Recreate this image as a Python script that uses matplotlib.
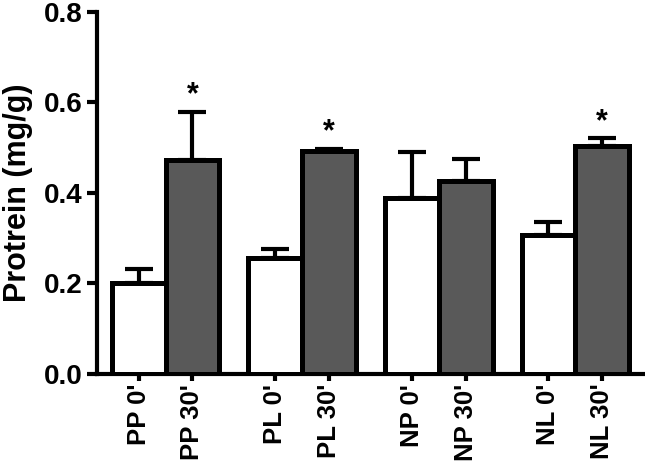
import matplotlib.pyplot as plt
import numpy as np

plt.rcParams['font.family'] = ['Liberation Sans', 'DejaVu Sans']
plt.rcParams['font.weight'] = 'bold'

# data
labels = ["PP 0'", "PP 30'", "PL 0'", "PL 30'", "NP 0'", "NP 30'", "NL 0'", "NL 30'"]
means = [0.200, 0.473, 0.256, 0.493, 0.388, 0.427, 0.306, 0.503]
errors = [0.032, 0.106, 0.020, 0.005, 0.103, 0.049, 0.029, 0.018]
signif = [False, True, False, True, False, False, False, True]

group_gap = 2.54
x = np.array([(i // 2) * group_gap + (i % 2) for i in range(len(labels))])
colors = ['white' if i % 2 == 0 else '#595959' for i in range(len(labels))]

fig = plt.figure(figsize=(6.45, 4.69), dpi=100)
ax = fig.add_axes([0.150, 0.2026, 0.847, 0.772])

ax.bar(x, means, width=1.0, color=colors, edgecolor='black', linewidth=3.6, zorder=3)
ax.errorbar(x, means, yerr=[np.zeros(len(means)), errors], fmt='none', ecolor='black',
            elinewidth=3, capsize=10, capthick=3, zorder=2)

for xi, m, e, s in zip(x, means, errors, signif):
    if s:
        ax.text(xi, m + e + 0.003, '*', ha='center', va='bottom', fontsize=22, fontweight='bold')

ax.set_xlim(-0.78, x[-1] + 0.76)
ax.set_ylim(0, 0.8)
ax.set_yticks([0.0, 0.2, 0.4, 0.6, 0.8])
ax.set_yticklabels(['0.0', '0.2', '0.4', '0.6', '0.8'])
ax.set_xticks(x)
ax.set_xticklabels(labels, rotation=90)
ax.set_ylabel('Protrein (mg/g)', fontsize=22, fontweight='bold', labelpad=8)

for side in ['top', 'right']:
    ax.spines[side].set_visible(False)
for side in ['left', 'bottom']:
    ax.spines[side].set_linewidth(3)
ax.tick_params(axis='y', width=3, length=7, labelsize=20, direction='out', pad=3)
ax.tick_params(axis='x', width=3, length=5, labelsize=18.5, direction='out', pad=2)

plt.savefig('out.png', dpi=100)
plt.close()
